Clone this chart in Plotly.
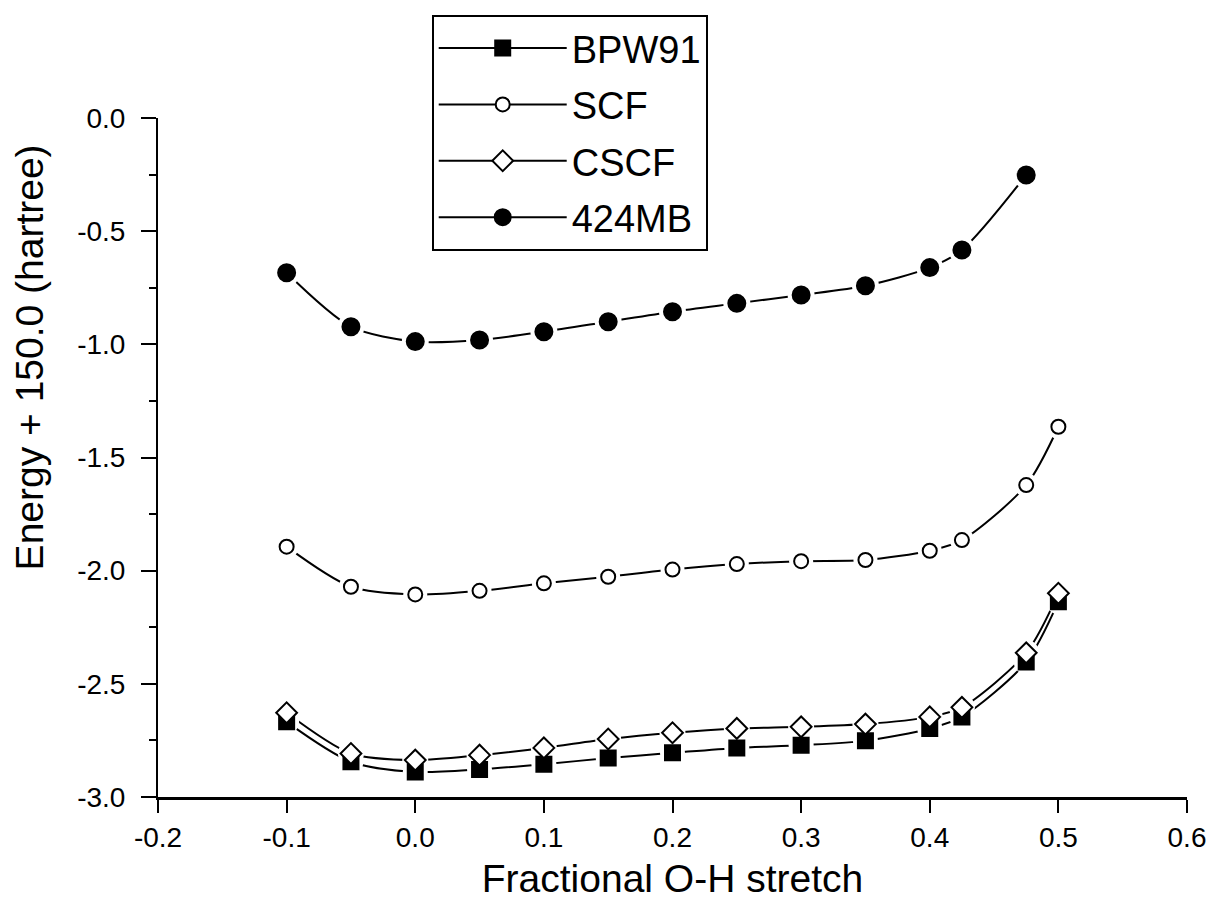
import plotly.graph_objects as go

# ---- data ----
x_full = [-0.1, -0.05, 0.0, 0.05, 0.1, 0.15, 0.2, 0.25, 0.3, 0.35, 0.4, 0.425, 0.475, 0.5]
x_mb = [-0.1, -0.05, 0.0, 0.05, 0.1, 0.15, 0.2, 0.25, 0.3, 0.35, 0.4, 0.425, 0.475]

bpw91 = [-2.668, -2.844, -2.889, -2.878, -2.855, -2.828, -2.805, -2.783, -2.771, -2.752,
         -2.697, -2.646, -2.403, -2.137]
scf = [-1.894, -2.071, -2.105, -2.089, -2.056, -2.027, -1.995, -1.971, -1.958, -1.953,
       -1.912, -1.865, -1.622, -1.364]
cscf = [-2.628, -2.808, -2.837, -2.815, -2.783, -2.744, -2.716, -2.697, -2.690, -2.678,
        -2.646, -2.604, -2.363, -2.100]
mb424 = [-0.684, -0.922, -0.988, -0.981, -0.944, -0.900, -0.856, -0.819, -0.782, -0.741,
         -0.661, -0.583, -0.252]

x_ticks = [-0.2, -0.1, 0.0, 0.1, 0.2, 0.3, 0.4, 0.5, 0.6]
x_ticktext = ["-0.2", "-0.1", "0.0", "0.1", "0.2", "0.3", "0.4", "0.5", "0.6"]
y_ticks = [0.0, -0.5, -1.0, -1.5, -2.0, -2.5, -3.0]
y_ticktext = ["0.0", "-0.5", "-1.0", "-1.5", "-2.0", "-2.5", "-3.0"]

FONT = "Liberation Sans, Arial, sans-serif"
Y_RANGE = [-3.0, 0.0]

# name, x, y, symbol, fill, size
series = [
    ("BPW91", x_full, bpw91, "square", "black", 15),
    ("SCF", x_full, scf, "circle", "white", 14),
    ("CSCF", x_full, cscf, "diamond", "white", 16),
    ("424MB", x_mb, mb424, "circle", "black", 17),
]

fig = go.Figure()
# lines (legend entries) on the base subplot
for name, xs, ys, sym, fill, sz in series:
    fig.add_trace(go.Scatter(
        x=xs, y=ys, name=name, legendgroup=name, mode="lines+markers",
        line=dict(color="black", width=2, shape="spline", smoothing=0.8),
        marker=dict(symbol=sym, size=sz, color=fill, line=dict(color="black", width=2)),
    ))
# white halos (gaps between line and markers) on an overlaid layer
for name, xs, ys, sym, fill, sz in series:
    fig.add_trace(go.Scatter(
        x=xs, y=ys, yaxis="y2", mode="markers", showlegend=False, hoverinfo="skip",
        marker=dict(symbol="circle", size=sz + 10, color="white", line=dict(width=0)),
    ))
# markers on top
for name, xs, ys, sym, fill, sz in series:
    fig.add_trace(go.Scatter(
        x=xs, y=ys, yaxis="y2", mode="markers", showlegend=False, name=name,
        marker=dict(symbol=sym, size=sz, color=fill, line=dict(color="black", width=2)),
    ))

fig.update_layout(
    width=1218, height=907,
    paper_bgcolor="white", plot_bgcolor="white",
    margin=dict(l=158, r=25, t=118, b=110),
    font=dict(family=FONT, color="black", size=22),
    legend=dict(
        x=0.266, y=1.152, xanchor="left", yanchor="top",
        bordercolor="black", borderwidth=2, bgcolor="white",
        font=dict(size=38, family=FONT), itemwidth=128, tracegroupgap=4,
    ),
    showlegend=True,
    annotations=[dict(
        text="Energy + 150.0 (hartree)", textangle=-90,
        xref="paper", yref="paper", x=-0.125, y=0.648,
        xanchor="center", yanchor="middle", showarrow=False,
        font=dict(size=39, family=FONT, color="black"),
    )],
    yaxis2=dict(overlaying="y", range=Y_RANGE, visible=False, showgrid=False, zeroline=False),
)
fig.update_xaxes(
    range=[-0.2, 0.6], tickvals=x_ticks, ticktext=x_ticktext,
    showgrid=False, zeroline=False, showline=True, linecolor="black", linewidth=3,
    ticks="outside", ticklen=13, tickwidth=2, tickcolor="black",
    tickfont=dict(size=28, family=FONT),
    title=dict(text="Fractional O-H stretch", font=dict(size=39, family=FONT), standoff=14),
)
fig.update_layout(yaxis=dict(
    range=Y_RANGE, tickvals=y_ticks, ticktext=y_ticktext,
    showgrid=False, zeroline=False, showline=True, linecolor="black", linewidth=2,
    ticks="outside", ticklen=15, tickwidth=2, tickcolor="black", ticklabelstandoff=10,
    minor=dict(dtick=0.25, ticks="outside", ticklen=7, tickwidth=1.5, tickcolor="black", showgrid=False),
    tickfont=dict(size=28, family=FONT),
))

fig.write_html("out.html")
